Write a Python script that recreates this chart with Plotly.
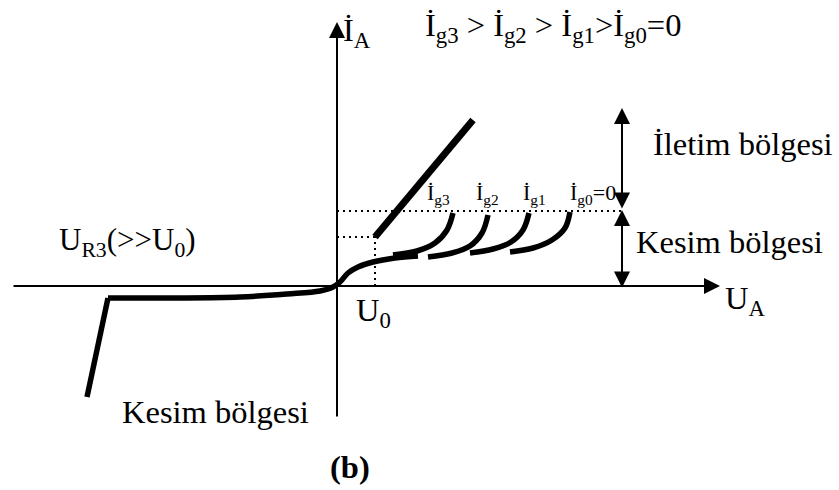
import plotly.graph_objects as go

# ---- thyristor static characteristic (schematic units: U to the right, I upwards) ----
# reverse breakdown (avalanche) segment
rev_break_u = [-250, -229]
rev_break_i = [-111, -12]
# reverse leakage -> origin -> forward blocking knee
block_u = [-229, -160, -97, -50, -17, -4, 3, 11, 21, 36, 58, 81]
block_i = [-12, -12, -11, -8, -5, -1, 4, 13, 19, 24, 28, 30]
# forward blocking curves for each gate current
gate_names = ["İ<sub>g3</sub>", "İ<sub>g2</sub>", "İ<sub>g1</sub>", "İ<sub>g0</sub>=0"]
gate_u = [
    [56, 80, 98, 110, 116],
    [91, 115, 133, 145, 151],
    [133, 156, 174, 186, 192],
    [173, 196, 215, 228, 233],
]
gate_i = [
    [31, 35, 43, 56, 73],
    [29, 33, 40, 53, 71],
    [33, 37, 44, 56, 73],
    [34, 38, 46, 58, 74],
]
gate_label_u = [101, 150, 197, 256]
gate_label_i = [92, 92, 92, 92]
# on-state line
on_u = [38, 136]
on_i = [49, 166]
# holding / latching levels
u0 = 38
i_hold = 49
i_latch = 75
# axes extents
x_axis = [-325, 383]
y_axis = [-132, 264]
# region markers on the right
region_u = 285
iletim_span = [178, 76]
kesim_span = [76, -3]

FONT = "Liberation Serif"
BLACK = "#000000"

fig = go.Figure()

# dotted guide lines (U0 / holding current / latching level)
for xs, ys in [([u0, u0], [0, i_hold]), ([0, u0], [i_hold, i_hold]), ([0, region_u], [i_latch, i_latch])]:
    fig.add_trace(go.Scatter(x=xs, y=ys, mode="lines",
                             line=dict(color=BLACK, width=2, dash="2px,4px"), hoverinfo="skip"))

# characteristic curves
fig.add_trace(go.Scatter(x=rev_break_u, y=rev_break_i, mode="lines",
                         line=dict(color=BLACK, width=5.5), hoverinfo="skip"))
fig.add_trace(go.Scatter(x=block_u, y=block_i, mode="lines",
                         line=dict(color=BLACK, width=5.5, shape="spline"), hoverinfo="skip"))
for gu, gi in zip(gate_u, gate_i):
    fig.add_trace(go.Scatter(x=gu, y=gi, mode="lines",
                             line=dict(color=BLACK, width=5.5, shape="spline"), hoverinfo="skip"))
fig.add_trace(go.Scatter(x=on_u, y=on_i, mode="lines",
                         line=dict(color=BLACK, width=7), hoverinfo="skip"))

annotations = []

def arrow(x0, y0, x1, y1, both=False, width=2, size=1.6):
    a = dict(x=x1, y=y1, ax=x0, ay=y0, xref="x", yref="y", axref="x", ayref="y",
             text="", showarrow=True, arrowhead=2, arrowsize=size, arrowwidth=width,
             arrowcolor=BLACK, standoff=0, startstandoff=0)
    if both:
        a.update(arrowside="end+start", startarrowhead=2, startarrowsize=size)
    annotations.append(a)

# coordinate axes
arrow(x_axis[0], 0, x_axis[1], 0)
arrow(0, y_axis[0], 0, y_axis[1])
# region spans
arrow(region_u, iletim_span[1], region_u, iletim_span[0], both=True)
arrow(region_u, kesim_span[1], region_u, kesim_span[0], both=True)

def label(x, y, text, size=32.5, xanchor="left", bold=False):
    annotations.append(dict(x=x, y=y, xref="x", yref="y", text=("<b>%s</b>" % text) if bold else text,
                            showarrow=False, xanchor=xanchor, yanchor="middle",
                            font=dict(family=FONT, size=size, color=BLACK)))

label(4, 254, "İ<sub>A</sub>")
label(86, 259, "İ<sub>g3</sub> > İ<sub>g2</sub> > İ<sub>g1</sub>>İ<sub>g0</sub>=0")
label(314, 142, "İletim bölgesi")
label(297, 44, "Kesim bölgesi")
label(-280, 44, "U<sub>R3</sub>(>>U<sub>0</sub>)", size=31)
label(-217, -126, "Kesim bölgesi")
label(36, -26, "U<sub>0</sub>", xanchor="center")
label(386, -14, "U<sub>A</sub>")
label(13, -181, "(b)", xanchor="center", bold=True)
for name, lu, li in zip(gate_names, gate_label_u, gate_label_i):
    label(lu, li, name, size=22, xanchor="center")

fig.update_layout(
    width=839, height=490,
    margin=dict(l=0, r=0, t=0, b=0),
    paper_bgcolor="white", plot_bgcolor="white",
    showlegend=False,
    annotations=annotations,
    xaxis=dict(range=[-337, 502], visible=False, fixedrange=True),
    yaxis=dict(range=[-204, 286], visible=False, fixedrange=True),
)

fig.write_html("out.html")
